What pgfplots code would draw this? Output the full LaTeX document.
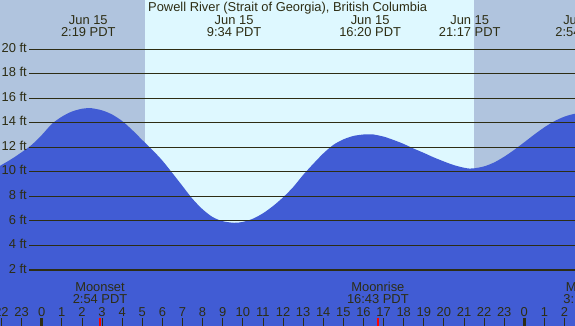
\documentclass[border=0pt]{standalone}
\usepackage{pgfplots}
\pgfplotsset{compat=1.18}
\usepackage{fontspec}
\setmainfont{Liberation Sans}
\definecolor{night}{RGB}{176,196,222}
\definecolor{day}{RGB}{222,248,255}
\definecolor{tide}{RGB}{65,92,212}
\definecolor{ink}{RGB}{45,45,20}
\begin{document}
\begin{tikzpicture}[every node/.style={font=\fontsize{12.9}{14}\selectfont, text=ink, inner sep=0pt}]
\useasboundingbox (0,0) rectangle (575pt,326pt);
\clip (0,0) rectangle (575pt,326pt);
\begin{axis}[at={(0,0)}, anchor=south west, width=575pt, height=326pt, scale only axis,
  xmin=-2.0736, xmax=26.52, ymin=-2.569, ymax=24.02, hide axis, clip=false]
% night background
\addplot[fill=night, draw=none] coordinates {(-3,-3) (28,-3) (28,25) (-3,25)};
% daylight
\addplot[fill=day, draw=none] coordinates {(5.14,-3) (21.5,-3) (21.5,25) (5.14,25)};
% tide
\addplot[fill=tide, draw=none] coordinates {(-3,-3) (28,-3) (28,0.5) (-3,0.5)};
\addplot[fill=tide, draw=none, smooth] coordinates {
(-2.2,10.41) (-2.1,10.47) (-1.5,11.05) (-1.0,11.6) (-0.5,12.2) (0,13.0) (0.5,13.9) (1.0,14.5)
(1.5,14.92) (2.0,15.15) (2.317,15.2) (2.5,15.19) (3.0,15.02) (3.5,14.68) (4.0,14.15)
(4.5,13.42) (5.0,12.6) (5.5,11.8) (6.0,10.92) (6.5,9.9) (7.0,8.85) (7.5,7.8) (8.0,6.95)
(8.5,6.32) (9.0,5.98) (9.567,5.85) (10.0,5.92) (10.5,6.18) (11.0,6.62) (11.5,7.21)
(12.0,7.92) (12.5,8.75) (13.0,9.75) (13.5,10.65) (14.0,11.5) (14.5,12.2) (15.0,12.65)
(15.5,12.93) (16.0,13.05) (16.333,13.07) (16.5,13.05) (17.0,12.88) (17.5,12.6) (18.0,12.28)
(18.5,11.9) (19.0,11.55) (19.5,11.18) (20.0,10.85) (20.5,10.55) (21.0,10.34) (21.283,10.27)
(21.5,10.29) (22.0,10.45) (22.5,10.77) (23.0,11.24) (23.5,11.8) (24.0,12.42) (24.5,13.05)
(25.0,13.64) (25.5,14.14) (26.0,14.51) (26.5,14.74) (26.9,14.8)} \closedcycle;
% grid lines
\pgfplotsinvokeforeach{2,4,...,20}{\addplot[ink, line width=1.1pt] coordinates {(-0.63,#1) (27,#1)};}
\foreach \v in {2,4,...,20} {\edef\temp{\noexpand\node[anchor=base east] at (axis cs:-0.73,\v-0.25) {\v\ ft};}\temp}
% hour ticks
\pgfplotsinvokeforeach{-2,...,26}{\addplot[ink, line width=0.8pt] coordinates {(#1,-1.94) (#1,-3)};}
\addplot[ink, line width=3.3pt] coordinates {(0,-1.94) (0,-3)};
\addplot[ink, line width=3.3pt] coordinates {(24,-1.94) (24,-3)};
\addplot[red, line width=1.4pt] coordinates {(2.9,-1.94) (2.9,-3)};
\addplot[red, line width=1.4pt] coordinates {(16.717,-1.94) (16.717,-3)};
\foreach \x/\l in {-2/22,-1/23,0/0,1/1,2/2,3/3,4/4,5/5,6/6,7/7,8/8,9/9,10/10,11/11,12/12,13/13,14/14,15/15,16/16,17/17,18/18,19/19,20/20,21/21,22/22,23/23,24/0,25/1,26/2} {\edef\temp{\noexpand\node[anchor=base] at (axis cs:\x,-1.754) {\l};}\temp}
% title and tide times
\node[anchor=base] at (axis cs:12.23,23.12) {Powell River (Strait of Georgia), British Columbia};
\foreach \x/\d/\t in {2.317/Jun 15/2:19 PDT, 9.567/Jun 15/9:34 PDT, 16.333/Jun 15/16:20 PDT, 21.283/Jun 15/21:17 PDT, 26.9/Jun 16/2:54 PDT} {
  \edef\temp{\noexpand\node[anchor=base] at (axis cs:\x,22.06) {\d}; \noexpand\node[anchor=base] at (axis cs:\x,21.08) {\t};}\temp}
% moon
\foreach \x/\d/\t in {2.9/Moonset/2:54 PDT, 16.717/Moonrise/16:43 PDT, 27.3/Moonset/3:18 PDT} {
  \edef\temp{\noexpand\node[anchor=base] at (axis cs:\x,0.23) {\d}; \noexpand\node[anchor=base] at (axis cs:\x,-0.77) {\t};}\temp}
\end{axis}
\end{tikzpicture}
\end{document}
